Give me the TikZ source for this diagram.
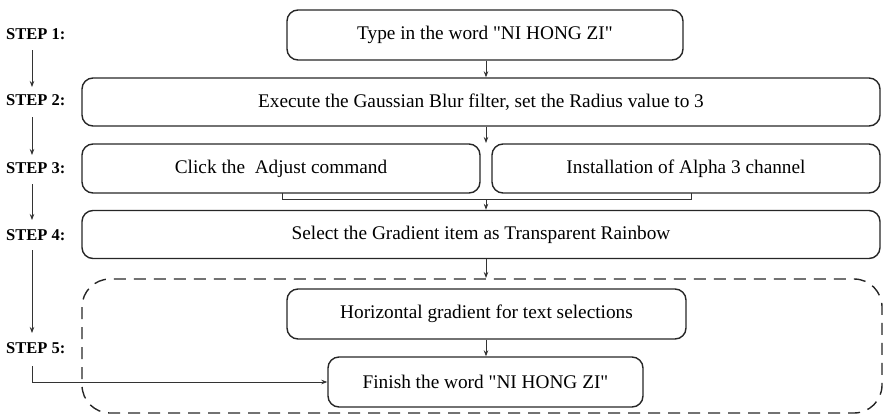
\documentclass[tikz,border=0pt]{standalone}
\usepackage{fontspec}
\setmainfont{Liberation Serif}
\usetikzlibrary{arrows.meta}
\begin{document}
\begin{tikzpicture}[x=1pt,y=-1pt,
  box/.style={draw=black!85,line width=1.4pt,rounded corners=11pt,inner sep=0pt,font=\fontsize{19.3}{21}\selectfont},
  steplabel/.style={font=\bfseries\fontsize{16.5}{18}\selectfont,inner sep=0pt,anchor=west},
  conn/.style={draw=black!80,line width=0.8pt},
  arr/.style={conn,-{Stealth[length=6pt,width=4.5pt]}}]
\useasboundingbox (0,0) rectangle (885,418);
% boxes
\node[box,minimum width=396pt,minimum height=50pt] (b1) at (485,35) {Type in the word \textquotedbl NI HONG ZI\textquotedbl};
\node[box,minimum width=798pt,minimum height=48pt] (b2) at (481,102) {Execute the Gaussian Blur filter, set the Radius value to 3};
\node[box,minimum width=398pt,minimum height=49pt] (b3a) at (281,168.5) {Click the \ Adjust command};
\node[box,minimum width=388pt,minimum height=49pt] (b3b) at (686,168.5) {Installation of Alpha 3 channel};
\node[box,minimum width=798pt,minimum height=48pt] (b4) at (481,234.5) {Select the Gradient item as Transparent Rainbow};
\draw[draw=black!85,line width=1.4pt,dash pattern=on 12pt off 8pt,rounded corners=28pt] (82,279) rectangle (882,413);
\node[box,minimum width=399pt,minimum height=50pt] (b5a) at (486.5,314) {Horizontal gradient for text selections};
\node[box,minimum width=315pt,minimum height=50pt] (b5b) at (485.5,382) {Finish the word \textquotedbl NI HONG ZI\textquotedbl};
% step labels
\node[steplabel] (s1) at (6,34) {STEP 1:};
\node[steplabel] (s2) at (6,100) {STEP 2:};
\node[steplabel] (s3) at (6,168) {STEP 3:};
\node[steplabel] (s4) at (6,235) {STEP 4:};
\node[steplabel] (s5) at (6,348) {STEP 5:};
% left arrows
\coordinate (l1a) at (32,50); \coordinate (l1b) at (32,87);
\coordinate (l2a) at (32,117); \coordinate (l2b) at (32,155);
\coordinate (l3a) at (32,184); \coordinate (l3b) at (32,220);
\coordinate (l4a) at (32,250); \coordinate (l4b) at (32,333);
\coordinate (l5a) at (32,366);
\draw[arr] (l1a) -- (l1b);
\draw[arr] (l2a) -- (l2b);
\draw[arr] (l3a) -- (l3b);
\draw[arr] (l4a) -- (l4b);
\draw[arr] (l5a) |- (b5b.west);
% central arrows
\draw[arr] (b1.south -| 486,0) -- (b2.north -| 486,0);
\draw[arr] (b2.south -| 486,0) -- (486,143);
\coordinate (br) at (282,199);
\coordinate (brr) at (691,199);
\draw[conn] (282,193) -- (br) -- (brr) -- (691,193);
\draw[arr] (486,199) -- (b4.north -| 486,0);
\draw[arr] (b4.south -| 486,0) -- (486,278);
\draw[arr] (b5a.south -| 486,0) -- (b5b.north -| 486,0);
\end{tikzpicture}
\end{document}
